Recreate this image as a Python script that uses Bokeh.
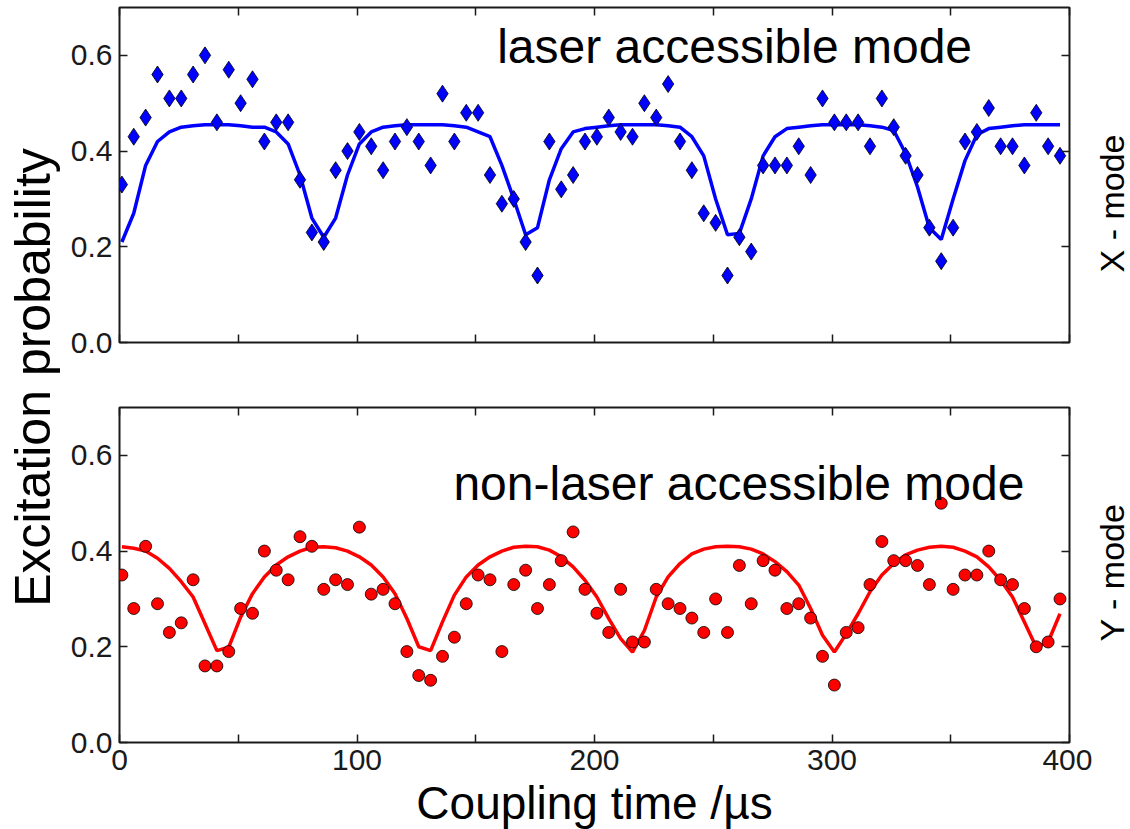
from math import pi

from bokeh.embed import file_html
from bokeh.layouts import column, row
from bokeh.models import FixedTicker, Label, LinearAxis, NumeralTickFormatter, Range1d
from bokeh.plotting import figure
from bokeh.resources import INLINE

FONT = "Liberation Sans"
INK = "#1a1a1a"

# Coupling time (µs) of each measurement and fit sample
time_us = [
    1, 6, 11, 16, 21, 26, 31, 36, 41, 46,
    51, 56, 61, 66, 71, 76, 81, 86, 91, 96,
    101, 106, 111, 116, 121, 126, 131, 136, 141, 146,
    151, 156, 161, 166, 171, 176, 181, 186, 191, 196,
    201, 206, 211, 216, 221, 226, 231, 236, 241, 246,
    251, 256, 261, 266, 271, 276, 281, 286, 291, 296,
    301, 306, 311, 316, 321, 326, 331, 336, 341, 346,
    351, 356, 361, 366, 371, 376, 381, 386, 391, 396,
]

# X mode (laser accessible): measured excitation probability
x_mode_measured = [
    0.33, 0.43, 0.47, 0.56, 0.51, 0.51, 0.56, 0.60, 0.46, 0.57,
    0.50, 0.55, 0.42, 0.46, 0.46, 0.34, 0.23, 0.21, 0.36, 0.40,
    0.44, 0.41, 0.36, 0.42, 0.45, 0.42, 0.37, 0.52, 0.42, 0.48,
    0.48, 0.35, 0.29, 0.30, 0.21, 0.14, 0.42, 0.32, 0.35, 0.42,
    0.43, 0.47, 0.44, 0.43, 0.50, 0.47, 0.54, 0.42, 0.36, 0.27,
    0.25, 0.14, 0.22, 0.19, 0.37, 0.37, 0.37, 0.41, 0.35, 0.51,
    0.46, 0.46, 0.46, 0.41, 0.51, 0.45, 0.39, 0.35, 0.24, 0.17,
    0.24, 0.42, 0.44, 0.49, 0.41, 0.41, 0.37, 0.48, 0.41, 0.39,
]

# X mode: model curve
x_mode_fit = [
    0.21, 0.27, 0.37, 0.42, 0.44, 0.45, 0.453, 0.455, 0.455, 0.455,
    0.453, 0.45, 0.45, 0.44, 0.415, 0.35, 0.26, 0.22, 0.26, 0.35,
    0.415, 0.44, 0.45, 0.453, 0.455, 0.455, 0.455, 0.455, 0.453, 0.45,
    0.44, 0.43, 0.37, 0.30, 0.225, 0.24, 0.34, 0.405, 0.44, 0.447,
    0.45, 0.453, 0.455, 0.455, 0.455, 0.455, 0.453, 0.45, 0.43, 0.39,
    0.30, 0.225, 0.228, 0.30, 0.39, 0.43, 0.447, 0.45, 0.453, 0.455,
    0.455, 0.455, 0.455, 0.453, 0.45, 0.443, 0.395, 0.325, 0.24, 0.215,
    0.30, 0.38, 0.434, 0.447, 0.45, 0.453, 0.455, 0.455, 0.455, 0.455,
]

# Y mode (non-laser accessible): measured excitation probability
y_mode_measured = [
    0.35, 0.28, 0.41, 0.29, 0.23, 0.25, 0.34, 0.16, 0.16, 0.19,
    0.28, 0.27, 0.40, 0.36, 0.34, 0.43, 0.41, 0.32, 0.34, 0.33,
    0.45, 0.31, 0.32, 0.29, 0.19, 0.14, 0.13, 0.18, 0.22, 0.29,
    0.35, 0.34, 0.19, 0.33, 0.36, 0.28, 0.33, 0.38, 0.44, 0.32,
    0.27, 0.23, 0.32, 0.21, 0.21, 0.32, 0.29, 0.28, 0.26, 0.23,
    0.30, 0.23, 0.37, 0.29, 0.38, 0.36, 0.28, 0.29, 0.26, 0.18,
    0.12, 0.23, 0.24, 0.33, 0.42, 0.38, 0.38, 0.37, 0.33, 0.50,
    0.32, 0.35, 0.35, 0.40, 0.34, 0.33, 0.28, 0.20, 0.21, 0.30,
]

# Y mode: model curve
y_mode_fit = [
    0.409, 0.406, 0.40, 0.385, 0.364, 0.336, 0.304, 0.248, 0.192, 0.199,
    0.262, 0.311, 0.346, 0.371, 0.388, 0.40, 0.408, 0.409, 0.407, 0.40,
    0.388, 0.371, 0.346, 0.311, 0.259, 0.20, 0.192, 0.252, 0.308, 0.346,
    0.371, 0.388, 0.40, 0.408, 0.41, 0.409, 0.402, 0.388, 0.367, 0.339,
    0.304, 0.259, 0.217, 0.189, 0.234, 0.304, 0.346, 0.374, 0.394, 0.404,
    0.409, 0.41, 0.409, 0.404, 0.394, 0.378, 0.357, 0.329, 0.28, 0.224,
    0.189, 0.227, 0.269, 0.315, 0.35, 0.374, 0.392, 0.402, 0.408, 0.41,
    0.408, 0.40, 0.388, 0.367, 0.339, 0.304, 0.252, 0.199, 0.21, 0.269,
]

x_ticks = [0, 50, 100, 150, 200, 250, 300, 350, 400]
x_tick_labels = {0: "0", 50: "", 100: "100", 150: "", 200: "200",
                 250: "", 300: "300", 350: "", 400: "400"}
y_ticks = [0.0, 0.2, 0.4, 0.6]

TOTAL_H = 829
LEFT_W = 62
FRAME_W, FRAME_H = 950, 335
BORDER_L, BORDER_R = 57, 23
RIGHT_W = 1130 - LEFT_W - BORDER_L - FRAME_W - BORDER_R


def style_ticks(ax):
    ax.axis_line_color = None
    ax.major_tick_in = 8
    ax.major_tick_out = 0
    ax.minor_tick_line_color = None
    ax.major_tick_line_color = INK
    ax.major_tick_line_width = 1.5
    ax.major_label_text_font = FONT
    ax.major_label_text_color = INK


def blank_labels(ax, ticks):
    ax.major_label_overrides = {t: "" for t in ticks}
    ax.major_label_text_font_size = "1px"
    ax.major_label_standoff = 0


def panel(border_top, border_bottom, labelled_x):
    p = figure(
        frame_width=FRAME_W, frame_height=FRAME_H,
        x_range=Range1d(0, 400), y_range=Range1d(0, 0.7),
        toolbar_location=None, output_backend="svg",
        min_border_left=BORDER_L, min_border_right=BORDER_R,
        min_border_top=border_top, min_border_bottom=border_bottom,
        background_fill_color="white", border_fill_color="white",
        outline_line_color=INK, outline_line_width=2,
    )
    p.grid.visible = False

    bottom_ax = p.xaxis[0]
    bottom_ax.ticker = FixedTicker(ticks=x_ticks)
    style_ticks(bottom_ax)
    if labelled_x:
        bottom_ax.major_label_overrides = x_tick_labels
        bottom_ax.major_label_text_font_size = "30px"
        bottom_ax.major_label_standoff = 7
    else:
        blank_labels(bottom_ax, x_ticks)

    ya = p.yaxis[0]
    ya.ticker = FixedTicker(ticks=y_ticks)
    ya.formatter = NumeralTickFormatter(format="0.0")
    style_ticks(ya)
    ya.major_label_text_font_size = "30px"
    ya.major_label_standoff = 7

    top_ax = LinearAxis(ticker=FixedTicker(ticks=x_ticks))
    style_ticks(top_ax)
    blank_labels(top_ax, x_ticks)
    p.add_layout(top_ax, "above")

    right_ax = LinearAxis(ticker=FixedTicker(ticks=y_ticks))
    style_ticks(right_ax)
    blank_labels(right_ax, y_ticks)
    p.add_layout(right_ax, "right")
    return p, bottom_ax


# Upper panel: X mode
p_x, _ = panel(7, 33, False)
p_x.line(time_us, x_mode_fit, line_color="#0000ff", line_width=3.5)
p_x.scatter(time_us, x_mode_measured, marker="diamond", size=17,
            fill_color="#0000ff", line_color="black", line_width=0.8)
p_x.add_layout(Label(x=159, y=0.619, text="laser accessible mode",
                     text_font=FONT, text_font_size="48px", text_color="black",
                     text_align="left", text_baseline="middle"))

# Lower panel: Y mode
p_y, x_axis_y = panel(32, 87, True)
p_y.line(time_us, y_mode_fit, line_color="#ff0000", line_width=3.5)
p_y.scatter(time_us, y_mode_measured, marker="circle", size=12,
            fill_color="#ff0000", line_color="black", line_width=0.8)
p_y.add_layout(Label(x=140.6, y=0.542, text="non-laser accessible mode",
                     text_font=FONT, text_font_size="48px", text_color="black",
                     text_align="left", text_baseline="middle"))
x_axis_y.axis_label = "Coupling time /µs"
x_axis_y.axis_label_text_font = FONT
x_axis_y.axis_label_text_font_size = "46px"
x_axis_y.axis_label_text_font_style = "normal"
x_axis_y.axis_label_text_color = "black"
x_axis_y.axis_label_standoff = 4


def strip(width):
    f = figure(width=width, height=TOTAL_H, x_range=Range1d(0, width),
               y_range=Range1d(0, TOTAL_H), toolbar_location=None,
               output_backend="svg", min_border=0, x_axis_type=None,
               y_axis_type=None, outline_line_color=None,
               background_fill_color="white", border_fill_color="white")
    f.grid.visible = False
    return f


# Shared y label on the left
left = strip(LEFT_W)
left.add_layout(Label(x=32.7, y=TOTAL_H - 377, text="Excitation probability",
                      angle=pi / 2, text_font=FONT, text_font_size="50px",
                      text_color="black", text_align="center",
                      text_baseline="middle"))

# Mode names on the right of each panel
right = strip(RIGHT_W)
for name, y_mid in (("X - mode", 203), ("Y - mode", 572)):
    right.add_layout(Label(x=RIGHT_W / 2, y=TOTAL_H - y_mid, text=name,
                           angle=pi / 2, text_font=FONT, text_font_size="34px",
                           text_color="black", text_align="center",
                           text_baseline="middle"))

layout = row(left, column(p_x, p_y), right)

with open("out.html", "w") as fh:
    fh.write(file_html(layout, INLINE))
